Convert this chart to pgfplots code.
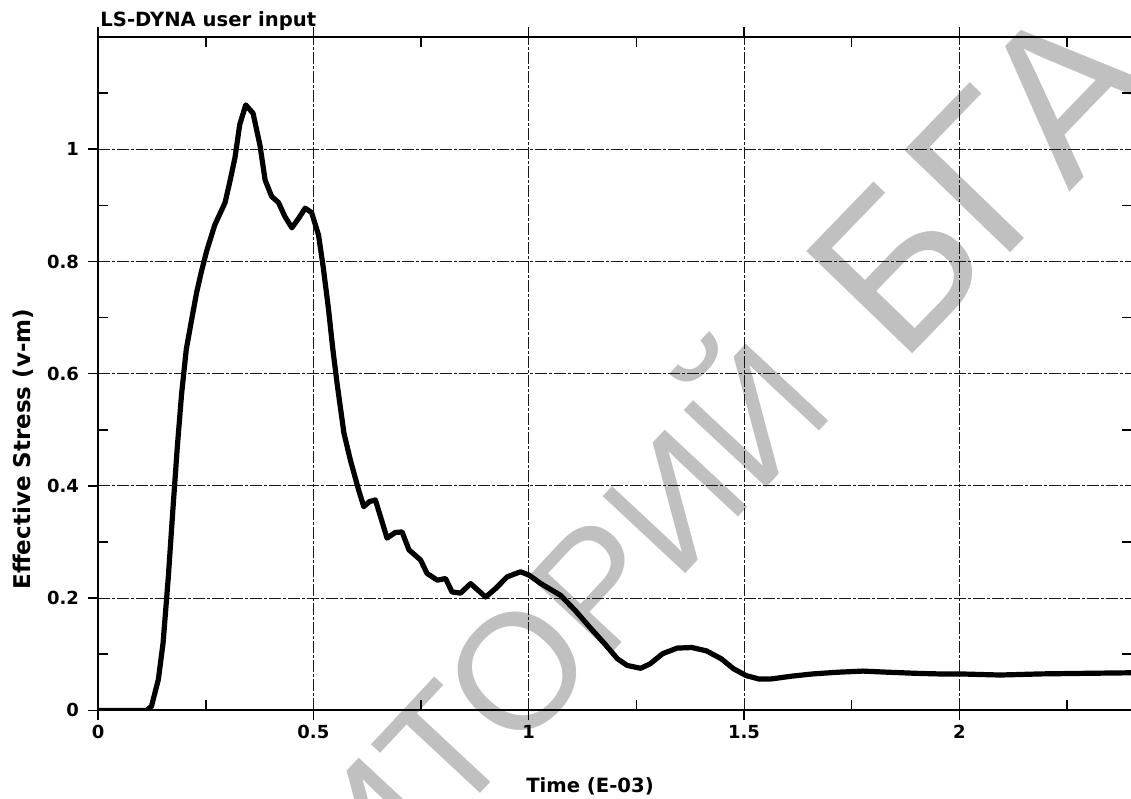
\documentclass[border=0pt]{standalone}
\usepackage{fontspec}
\setmainfont{DejaVu Sans}
\newfontfamily\wmfont{Liberation Sans}
\usepackage{pgfplots}
\pgfplotsset{compat=1.18}
\definecolor{wm}{RGB}{192,192,192}

\begin{document}
\begin{tikzpicture}
% watermark behind the plot
\tikzset{wmtext/.style={inner sep=0, text=wm}}
\node[wmtext, rotate=47, anchor=base east, font=\wmfont\fontsize{82}{82}\selectfont]
  at (176.6pt,-57.4pt) {РЕПОЗИ};
\node[wmtext, rotate=47, anchor=base west, font=\wmfont\fontsize{82}{82}\selectfont]
  at (176.6pt,-57.4pt) {ТОРИЙ};
\node[wmtext, rotate=46, anchor=base west, font=\wmfont\fontsize{107}{107}\selectfont]
  at (401pt,171.5pt) {БГА};

\begin{axis}[
  at={(0,0)}, anchor=south west,
  scale only axis, width=516.5pt, height=336.5pt,
  xmin=0, xmax=2.4, ymin=0, ymax=1.2,
  xtick={0,0.5,1,1.5,2}, ytick={0,0.2,0.4,0.6,0.8,1},
  extra x ticks={0.25,0.75,1.25,1.75,2.25}, extra x tick labels={},
  extra y ticks={0.1,0.3,0.5,0.7,0.9,1.1}, extra y tick labels={},
  extra tick style={grid=none, tick align=inside},
  tick align=outside, major tick length=5pt,
  scaled ticks=false,
  /pgf/number format/assume math mode=true,
  tick label style={font=\fontsize{9}{10}\selectfont\bfseries},
  xticklabel style={anchor=base, yshift=-9pt},
  yticklabel style={anchor=east, xshift=-1pt},
  grid=major,
  grid style={black!90, line width=0.45pt, dash pattern=on 6pt off 1pt on 1.5pt off 1pt},
  axis line style={black, line width=1pt},
  tick style={black, line width=0.8pt},
  xlabel={Time (E-03)},
  ylabel={Effective Stress (v-m)},
  every axis x label/.style={at={(axis description cs:0.476,-0.1218)}, anchor=base,
    font=\fontsize{9.8}{11}\selectfont\bfseries},
  every axis y label/.style={at={(axis description cs:-0.0721,0.388)}, rotate=90, anchor=center,
    font=\fontsize{11.5}{13}\selectfont\bfseries},
]
\addplot[black, line width=2.6pt, line join=round] coordinates {
(0,0) (0.05,0) (0.112,0) (0.124,0.007) (0.140,0.055) (0.151,0.12)
(0.163,0.236) (0.174,0.36) (0.184,0.469) (0.194,0.564) (0.205,0.644)
(0.217,0.695) (0.229,0.745) (0.240,0.782) (0.252,0.818) (0.271,0.865)
(0.295,0.905) (0.306,0.942) (0.318,0.985) (0.329,1.044) (0.343,1.079)
(0.360,1.064) (0.376,1.007) (0.388,0.945) (0.403,0.916) (0.419,0.905)
(0.434,0.880) (0.450,0.860) (0.465,0.876) (0.481,0.895) (0.496,0.887)
(0.512,0.847) (0.523,0.789) (0.535,0.716) (0.545,0.645) (0.555,0.583)
(0.571,0.494) (0.586,0.446) (0.605,0.393) (0.617,0.363) (0.630,0.372)
(0.644,0.375) (0.658,0.340) (0.671,0.307) (0.690,0.317) (0.706,0.318)
(0.722,0.286) (0.749,0.268) (0.764,0.244) (0.788,0.232) (0.807,0.235)
(0.822,0.211) (0.842,0.209) (0.865,0.226) (0.900,0.202) (0.923,0.217)
(0.950,0.238) (0.981,0.247) (1.001,0.241) (1.028,0.226) (1.074,0.205)
(1.108,0.178) (1.142,0.148) (1.176,0.119) (1.206,0.092) (1.229,0.080)
(1.260,0.075) (1.282,0.083) (1.311,0.101) (1.345,0.111) (1.379,0.112)
(1.413,0.106) (1.447,0.092) (1.476,0.074) (1.505,0.062) (1.534,0.056)
(1.563,0.056) (1.611,0.061) (1.660,0.065) (1.718,0.068) (1.776,0.070)
(1.834,0.068) (1.901,0.066) (1.950,0.065) (2.000,0.065) (2.046,0.064)
(2.095,0.063) (2.190,0.065) (2.290,0.066) (2.400,0.067)
};
\end{axis}

\node[anchor=base west, inner sep=0, font=\fontsize{9.8}{11}\selectfont\bfseries]
  at (1pt,342pt) {LS-DYNA user input};

\pgfresetboundingbox
\useasboundingbox (-49pt,-44pt) rectangle (516.2pt,355pt);
\end{tikzpicture}
\end{document}
